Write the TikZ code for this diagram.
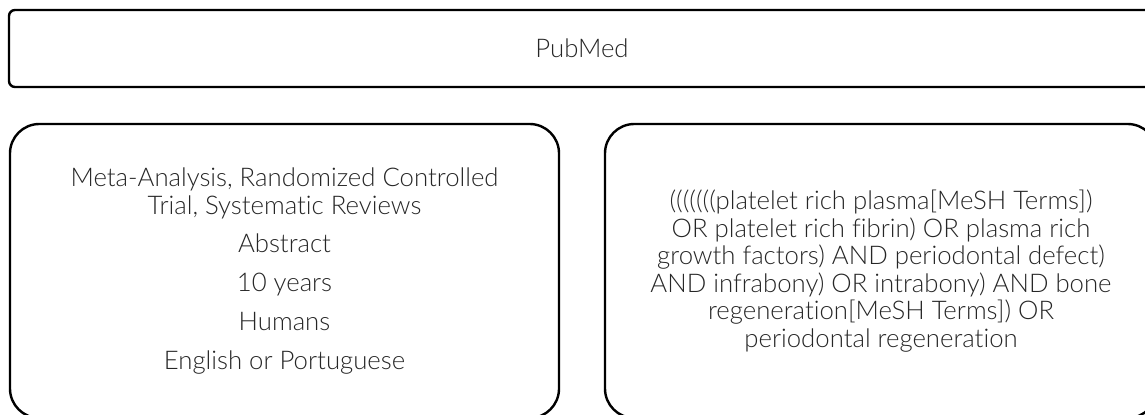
\documentclass[tikz,border=0pt]{standalone}
\usepackage{fontspec}
\setmainfont{Lato Light}[Ligatures=NoCommon]
\usetikzlibrary{positioning}
\tikzset{
    searchbox/.style={draw, line width=1.8pt, align=center, inner sep=0pt, text=black!85,
        font=\fontsize{19.3}{20.6}\selectfont},
}
\begin{document}
\begin{tikzpicture}[x=0.75pt,y=-0.75pt]
    % Frame of the picture.
    \useasboundingbox (0,0) rectangle (1145,414);
    \clip (0,0) rectangle (1145,414);

    % Database.
    \node[searchbox, rounded corners=4.5pt, minimum width=859.5pt, minimum height=57.75pt] (pubmed) at (582,48.5) {PubMed};

    % Filters.
    \node[searchbox, rounded corners=22pt, minimum width=411.75pt, minimum height=220.5pt] (filters) at (284.5,271)
        {Meta-Analysis, Randomized Controlled\\Trial, Systematic Reviews\\[8.5pt]
         Abstract\\[8.5pt]10 years\\[8.5pt]Humans\\[8.5pt]English or Portuguese};

    % Search string.
    \node[searchbox, rounded corners=22pt, minimum width=414pt, minimum height=220.5pt] (query) at (881,271)
        {(((((((platelet rich plasma[MeSH Terms])\\OR platelet rich fibrin) OR plasma rich\\
         growth factors) AND periodontal defect)\\AND infrabony) OR intrabony) AND bone\\
         regeneration[MeSH Terms]) OR\\periodontal regeneration};
\end{tikzpicture}
\end{document}
